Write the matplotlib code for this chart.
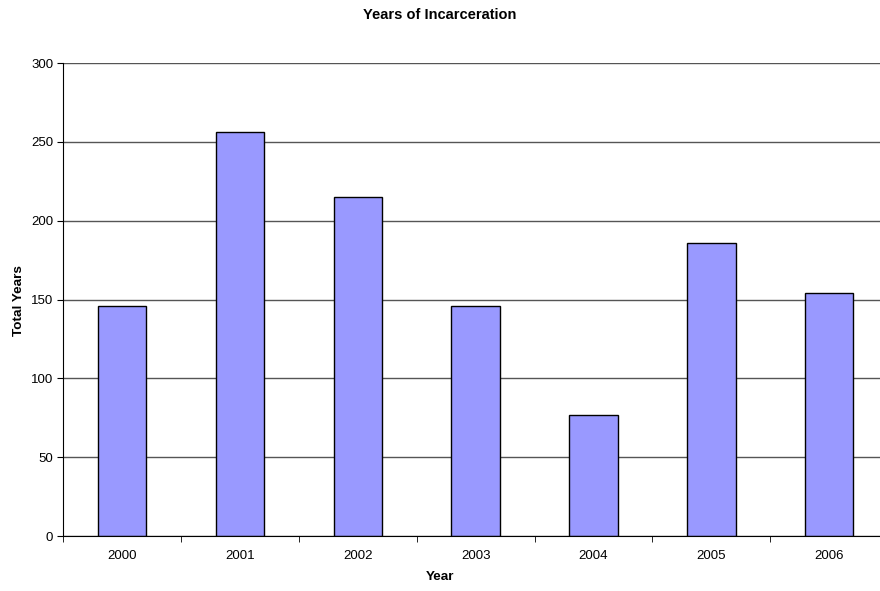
import matplotlib
matplotlib.use('Agg')
import matplotlib.pyplot as plt
import numpy as np

plt.rcParams['font.family'] = ['Liberation Sans', 'DejaVu Sans']

years = ['2000', '2001', '2002', '2003', '2004', '2005', '2006']
total_years = [146, 256, 215, 146, 77, 186, 154]

fig = plt.figure(figsize=(8.8, 5.91), dpi=100)
ax = fig.add_axes([0.0716, 0.093, 0.9284, 0.8004])

x = np.arange(len(years))
ax.bar(x, total_years, width=0.41, color='#9999ff', edgecolor='black', linewidth=1, zorder=3)

ax.set_ylim(0, 300)
ax.set_yticks(range(0, 301, 50))
ax.yaxis.grid(True, color='#555555', linewidth=1, zorder=0)
ax.set_xlim(-0.5, 6.43)

# category labels centred, tick marks between categories
ax.set_xticks(x)
ax.set_xticklabels(years)
ax.tick_params(axis='x', length=0, labelsize=9.5, pad=10)
ax.set_xticks(np.arange(-0.5, 6.5, 1), minor=True)
ax.tick_params(axis='x', which='minor', length=4, direction='out', color='black')
ax.tick_params(axis='y', length=4, direction='out', labelsize=9.5, pad=3)

for side in ['top', 'right']:
    ax.spines[side].set_visible(False)
ax.spines['left'].set_color('black')
ax.spines['bottom'].set_color('black')
ax.spines['left'].set_zorder(4)
ax.spines['bottom'].set_zorder(4)

fig.text(0.5, 0.0237, 'Year', ha='center', va='center', fontsize=9.7, fontweight='bold')
fig.text(0.0216, 0.4907, 'Total Years', ha='center', va='center', rotation=90,
         fontsize=9.7, fontweight='bold')
fig.text(0.5, 0.9746, 'Years of Incarceration', ha='center', va='center',
         fontsize=10.5, fontweight='bold')

fig.savefig('out.png', dpi=100)
